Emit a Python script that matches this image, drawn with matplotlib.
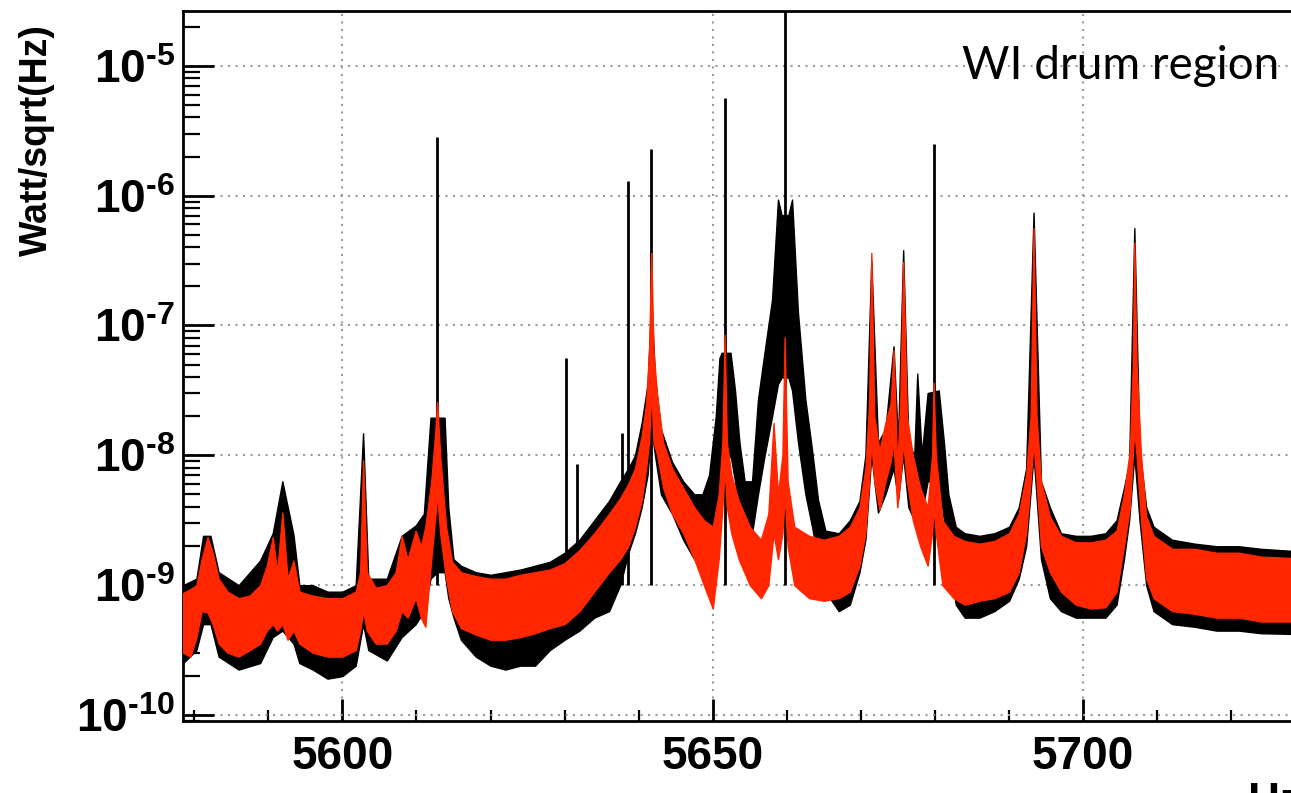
import numpy as np
import matplotlib.pyplot as plt
from matplotlib.ticker import MultipleLocator, LogLocator, NullFormatter

plt.rcParams.update({
    'font.family': 'Liberation Sans',
    'font.weight': 'bold',
    'mathtext.fontset': 'custom',
    'mathtext.rm': 'Liberation Sans:bold',
    'mathtext.it': 'Liberation Sans:bold',
    'mathtext.bf': 'Liberation Sans:bold',
})

# spectra, log10(Watt/sqrt(Hz)): upper and lower edge of the noise band
black_f = [5578.5, 5580.3, 5581.2, 5582.2, 5583.3, 5586, 5588.9, 5590.6, 5591.9, 5593.4,
           5594.2, 5596, 5598, 5600, 5601.8, 5602.8, 5603.5, 5606, 5608, 5609.9,
           5611.0, 5611.9, 5612.8, 5613.8, 5614.3, 5615, 5616, 5618, 5620, 5622,
           5624, 5626, 5628, 5630, 5632, 5634, 5636, 5637.5, 5638.6, 5639.5,
           5640.4, 5641.2, 5641.7, 5642.2, 5643, 5644.5, 5646, 5647.5, 5648.6, 5649.5,
           5650.4, 5650.9, 5651.2, 5652.4, 5653.0, 5653.6, 5654.3, 5655.3, 5656.1, 5657.0,
           5658.0, 5658.8, 5659.3, 5660.2, 5660.7, 5661.5, 5662.5, 5663.4, 5664.2, 5665.2,
           5667, 5668.5, 5669.8, 5670.6, 5671.4, 5672.3, 5673.3, 5674.4, 5675.0, 5675.7,
           5676.4, 5677.2, 5677.6, 5678.2, 5679.0, 5680.5, 5681.2, 5681.8, 5682.8, 5684,
           5686, 5688, 5690, 5691.3, 5692.3, 5693.3, 5694.3, 5695.5, 5697, 5699,
           5701, 5703, 5704.5, 5705.5, 5706.2, 5706.9, 5707.6, 5708.5, 5709.5, 5712,
           5715, 5718, 5721, 5724, 5732]
black_hi = [-9.0, -8.95, -8.62, -8.62, -8.9, -9.0, -8.81, -8.6, -8.2, -8.61,
            -9.0, -9.0, -9.05, -9.05, -9.0, -7.83, -8.95, -8.95, -8.62, -8.54,
            -8.45, -7.71, -7.71, -7.71, -8.4, -8.8, -8.85, -8.9, -8.92, -8.9,
            -8.88, -8.85, -8.82, -8.75, -8.65, -8.5, -8.35, -8.2, -8.1, -8.0,
            -7.75, -7.45, -6.8, -7.4, -7.8, -8.05, -8.2, -8.3, -8.3, -8.15,
            -7.7, -7.25, -7.21, -7.21, -7.5, -7.9, -8.2, -8.2, -7.57, -7.2,
            -6.8, -6.03, -6.15, -6.15, -6.03, -6.9, -7.57, -7.96, -8.34, -8.58,
            -8.6, -8.5, -8.35, -8.0, -6.5, -7.9, -7.8, -7.16, -7.9, -6.42,
            -7.9, -8.0, -7.37, -8.0, -7.52, -7.5, -7.9, -8.3, -8.55, -8.6,
            -8.62, -8.6, -8.55, -8.4, -8.1, -6.13, -8.2, -8.4, -8.6, -8.62,
            -8.62, -8.6, -8.5, -8.25, -8.06, -6.25, -7.95, -8.4, -8.55, -8.65,
            -8.68, -8.7, -8.7, -8.72, -8.75]
black_lo = [-9.6, -9.5, -9.3, -9.3, -9.55, -9.65, -9.6, -9.4, -9.35, -9.45,
            -9.6, -9.65, -9.72, -9.7, -9.62, -9.3, -9.5, -9.58, -9.4, -9.3,
            -9.2, -8.95, -8.9, -8.9, -9.1, -9.25, -9.42, -9.55, -9.62, -9.65,
            -9.62, -9.62, -9.5, -9.42, -9.35, -9.25, -9.2, -9.0, -8.75, -8.6,
            -8.4, -8.15, -7.8, -8.0, -8.3, -8.45, -8.65, -8.8, -8.85, -8.75,
            -8.5, -8.3, -8.1, -8.0, -8.2, -8.45, -8.6, -8.6, -8.3, -8.0,
            -7.7, -7.45, -7.4, -7.4, -7.5, -7.9, -8.3, -8.55, -8.8, -9.05,
            -9.2, -9.15, -8.9, -8.65, -8.0, -8.44, -8.3, -8.1, -8.34, -8.0,
            -8.4, -8.5, -8.5, -8.45, -8.2, -8.2, -8.5, -8.8, -9.15, -9.25,
            -9.25, -9.2, -9.12, -8.95, -8.7, -8.0, -8.8, -9.1, -9.2, -9.25,
            -9.25, -9.25, -9.15, -8.8, -8.5, -8.0, -8.5, -9.0, -9.2, -9.3,
            -9.32, -9.35, -9.35, -9.37, -9.38]

red_f = [5578.5, 5579.5, 5580.3, 5581.0, 5581.8, 5582.5, 5583.3, 5584.5, 5586, 5587.5,
         5588.9, 5589.8, 5590.6, 5591.2, 5591.9, 5592.6, 5593.4, 5594.2, 5596, 5598,
         5600, 5601.8, 5602.4, 5602.8, 5603.3, 5604.5, 5606, 5607.2, 5608.0, 5608.8,
         5609.9, 5610.6, 5611.2, 5612.0, 5612.5, 5612.8, 5613.2, 5614.0, 5614.8, 5616,
         5618, 5620, 5622, 5624, 5626, 5628, 5630, 5632, 5634, 5636,
         5637.5, 5638.6, 5639.5, 5640.4, 5641.0, 5641.4, 5641.7, 5642.0, 5642.5, 5643.3,
         5644.5, 5646, 5647.5, 5648.8, 5650, 5650.8, 5651.3, 5651.6, 5651.9, 5652.5,
         5653.5, 5655, 5656.5, 5657.5, 5658.2, 5658.8, 5659.4, 5659.7, 5660.1, 5661,
         5663, 5665, 5667, 5668.5, 5669.8, 5670.6, 5671.1, 5671.4, 5671.8, 5672.5,
         5673.3, 5674.0, 5674.4, 5674.9, 5675.3, 5675.7, 5676.2, 5677, 5678, 5679,
         5679.6, 5679.8, 5680.1, 5681, 5682.5, 5684, 5686, 5688, 5690, 5691.3,
         5692.3, 5692.9, 5693.3, 5693.7, 5694.3, 5695.5, 5697, 5699, 5701, 5703,
         5704.5, 5705.5, 5706.3, 5706.7, 5706.9, 5707.2, 5707.8, 5708.5, 5709.5, 5712,
         5715, 5718, 5721, 5724, 5732]
red_hi = [-9.06, -9.03, -9.0, -8.8, -8.63, -8.75, -8.95, -9.05, -9.1, -9.08,
          -9.0, -8.85, -8.63, -8.9, -8.44, -8.95, -8.81, -9.05, -9.08, -9.1,
          -9.1, -9.05, -8.9, -8.04, -8.9, -9.02, -9.0, -8.9, -8.62, -8.8,
          -8.58, -8.7, -8.55, -8.2, -7.85, -7.59, -8.0, -8.55, -8.82, -8.9,
          -8.93, -8.95, -8.95, -8.92, -8.9, -8.88, -8.83, -8.73, -8.6, -8.45,
          -8.33, -8.22, -8.1, -7.85, -7.6, -7.2, -6.44, -7.2, -7.55, -7.9,
          -8.1, -8.25, -8.4, -8.5, -8.55, -8.3, -7.9, -7.07, -7.9, -8.15,
          -8.35, -8.55, -8.65, -8.45, -7.75, -8.3, -8.0, -7.09, -8.2, -8.55,
          -8.62, -8.65, -8.62, -8.55, -8.4, -8.1, -7.6, -6.44, -7.7, -7.96,
          -7.75, -7.6, -7.19, -8.1, -7.6, -6.51, -7.7, -8.0, -8.25, -8.4,
          -8.0, -7.44, -8.0, -8.5, -8.62, -8.66, -8.68, -8.66, -8.6, -8.45,
          -8.15, -7.7, -6.25, -7.7, -8.2, -8.47, -8.62, -8.67, -8.67, -8.65,
          -8.58, -8.3, -7.96, -7.3, -6.36, -7.3, -8.0, -8.47, -8.62, -8.72,
          -8.72, -8.75, -8.75, -8.78, -8.8]
red_lo = [-9.52, -9.55, -9.4, -9.2, -9.21, -9.3, -9.45, -9.52, -9.55, -9.5,
          -9.45, -9.35, -9.3, -9.35, -9.3, -9.42, -9.35, -9.45, -9.52, -9.55,
          -9.55, -9.5, -9.35, -9.2, -9.35, -9.45, -9.45, -9.35, -9.2, -9.25,
          -9.1, -9.25, -9.32, -8.8, -8.5, -8.3, -8.6, -8.95, -9.2, -9.33,
          -9.38, -9.42, -9.42, -9.4, -9.37, -9.33, -9.3, -9.2, -9.05, -8.9,
          -8.8, -8.7, -8.55, -8.35, -8.1, -7.9, -7.5, -7.9, -8.0, -8.25,
          -8.45, -8.6, -8.8, -9.0, -9.18, -8.8, -8.4, -8.1, -8.4, -8.6,
          -8.8, -9.0, -9.1, -9.0, -8.6, -8.8, -8.6, -8.3, -8.7, -9.0,
          -9.1, -9.12, -9.1, -9.05, -8.85, -8.6, -8.2, -7.9, -8.2, -8.42,
          -8.2, -8.05, -7.9, -8.4, -8.2, -7.9, -8.2, -8.5, -8.7, -8.85,
          -8.6, -8.4, -8.6, -9.0, -9.1, -9.15, -9.12, -9.1, -9.05, -8.9,
          -8.6, -8.2, -7.9, -8.2, -8.7, -8.9, -9.05, -9.15, -9.18, -9.17,
          -9.05, -8.7, -8.4, -8.0, -7.8, -8.0, -8.5, -8.95, -9.1, -9.2,
          -9.22, -9.25, -9.25, -9.28, -9.28]

# narrow black lines rising above the band
spike_f = [5612.8, 5630.2, 5631.7, 5637.8, 5638.6, 5641.7, 5651.6, 5659.8, 5679.8]
spike_top = [-5.545, -7.25, -8.07, -7.83, -5.89, -5.64, -5.25, -4.5, -5.6]

xticks = [5600, 5650, 5700]
yexp = [-10, -9, -8, -7, -6, -5]
# hyphen (U+2010) in the exponent, like the original ROOT labels
ylabels = ['$10^{\u2010%d}$' % -e for e in yexp]

RED = '#ff2600'

fig = plt.figure(figsize=(12.91, 7.93), dpi=100)
ax = fig.add_axes([0.1418, 0.0908, 0.878, 0.8953])

ax.fill_between(black_f, 10 ** np.array(black_lo), 10 ** np.array(black_hi),
                color='k', lw=1.0, zorder=2)
ax.vlines(spike_f, 1e-9, 10 ** np.array(spike_top), color='k', lw=2, zorder=2)
ax.fill_between(red_f, 10 ** np.array(red_lo), 10 ** np.array(red_hi),
                color=RED, lw=1.0, zorder=3)

ax.set_yscale('log')
ax.set_xlim(5578.5, 5731.5)
ax.set_ylim(10 ** -10.046, 10 ** -4.578)

ax.set_xticks(xticks)
ax.xaxis.set_minor_locator(MultipleLocator(10))
ax.set_yticks([10.0 ** e for e in yexp])
ax.set_yticklabels(ylabels)
ax.yaxis.set_minor_locator(LogLocator(base=10, subs=np.arange(2, 10)))
ax.yaxis.set_minor_formatter(NullFormatter())

ax.tick_params(axis='x', which='major', direction='in', length=16, width=2, labelsize=33, pad=10)
ax.tick_params(axis='x', which='minor', direction='in', length=8, width=1.6)
ax.tick_params(axis='y', which='major', direction='in', length=22, width=2, labelsize=33, pad=6)
ax.tick_params(axis='y', which='minor', direction='in', length=12, width=1.6)

ax.grid(True, which='major', color='#9a9a9a', ls=(0, (1, 2.6)), lw=1.5, zorder=1)
ax.set_axisbelow(True)
for s in ax.spines.values():
    s.set_linewidth(2)

fig.text(37 / 1291, 1 - 140 / 793, 'Watt/sqrt(Hz)', rotation=90, ha='center', va='center',
         fontsize=27, fontweight='bold')
# x title sits at the cropped bottom-right corner, as in the original
fig.text(1248 / 1291, 1 - 782 / 793, 'Hz', ha='left', va='top', fontsize=32, fontweight='bold')
ax.text(5726.5, 10 ** -5.0, 'WI drum region', ha='right', va='center', fontsize=33,
        fontweight='normal', family='Lato', zorder=5)

fig.savefig('out.png', dpi=100)
